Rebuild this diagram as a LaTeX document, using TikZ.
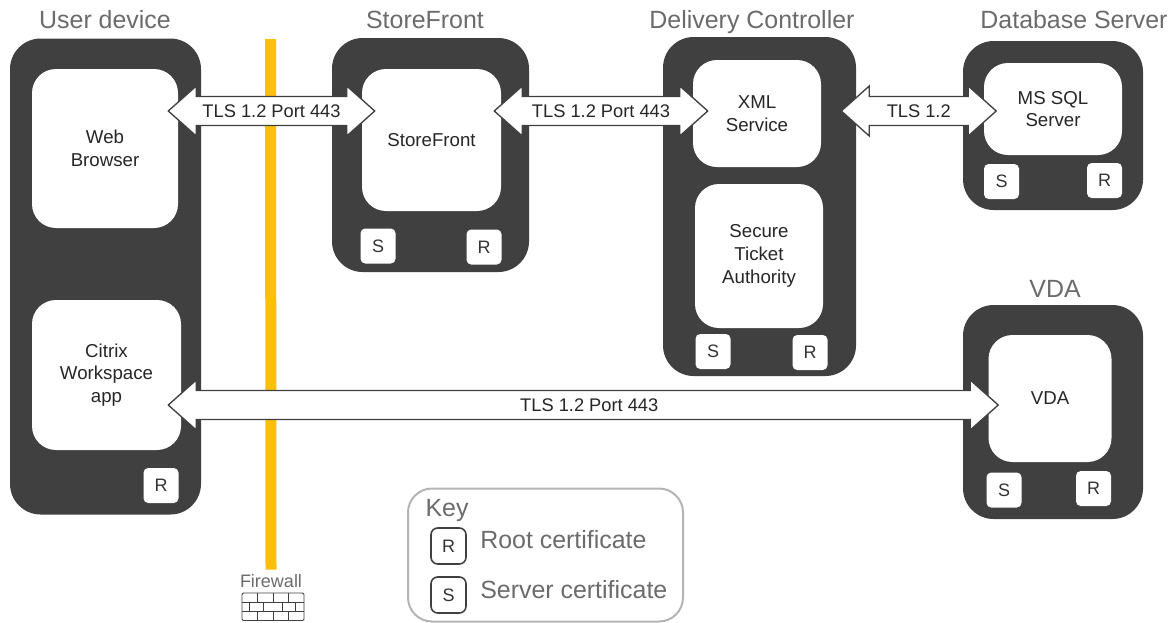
\documentclass[tikz,border=0pt]{standalone}
\usepackage{fontspec}
\setmainfont{Liberation Sans}
\usetikzlibrary{calc}
\definecolor{slab}{HTML}{404040}
\definecolor{titlegray}{HTML}{6B6B6B}
\definecolor{keygray}{HTML}{B4B4B4}
\definecolor{firebar}{HTML}{FCBF0A}

\tikzset{
  boxsize/.style 2 args={minimum width=#1*0.75pt, minimum height=#2*0.75pt, inner sep=0pt},
  hostbox/.style={fill=slab, rounded corners=23pt},
  appbox/.style={fill=white, rounded corners=18pt, align=center, text=black!85,
    font=\fontsize{14}{17}\selectfont},
  certbox/.style={fill=white, rounded corners=3.5pt, boxsize={35}{35}, text=black!80,
    font=\fontsize{13.5}{16}\selectfont},
  keycert/.style={draw=slab, line width=1.2pt, rounded corners=5pt, boxsize={35}{36}, text=black!80,
    font=\fontsize{13.5}{16}\selectfont},
  hosttitle/.style={text=titlegray, text height=16pt, text depth=3pt, inner sep=0pt,
    font=\fontsize{18.7}{22}\selectfont},
  keytext/.style={text=titlegray, anchor=west, inner sep=0pt, font=\fontsize{18.7}{22}\selectfont},
  linktext/.style={text=black!85, font=\fontsize{13.7}{16}\selectfont},
  fatlink/.style={draw=slab, fill=white, line width=1pt, to path={
    -- ++(28,-25) -- ++(0,10.5) -- ($(\tikztotarget)+(-28,-14.5)$) -- ++(0,-10.5)
    -- (\tikztotarget)
    -- ++(-28,25) -- ++(0,-10.5) -- ($(\tikztostart)+(28,14.5)$) -- ++(0,10.5) -- cycle
    ($(\tikztostart)!0.5!(\tikztotarget)$) -- ($(\tikztostart)!0.5!(\tikztotarget)$) \tikztonodes}},
}

\begin{document}
\begin{tikzpicture}[x=0.75pt,y=-0.75pt]
\useasboundingbox (0,0) rectangle (1176,622);

% Firewall
\node[text=titlegray, font=\fontsize{13.5}{16}\selectfont] (firewall) at (271,581) {Firewall};
\coordinate (firetop) at (270.5,39);
\draw[firebar, line width=8.25pt] (firetop) -- (firewall.north);

% Brick icon under the firewall
\draw[slab, line width=0.7pt, rounded corners=1pt] (242,593) rectangle (304,620.5);
\draw[slab, line width=0.7pt] (242,602) -- (304,602) (242,611) -- (304,611);
\foreach \xb in {257,273,288} {
  \draw[slab, line width=0.7pt] (\xb,593) -- (\xb,602) (\xb,611) -- (\xb,620.5);
}
\foreach \xb in {249,263,282,295} {
  \draw[slab, line width=0.7pt] (\xb,602) -- (\xb,611);
}

% Host slabs
\node[hostbox, boxsize={191}{476}] (userhost) at (105.5,276.5) {};
\node[hostbox, boxsize={197}{234}] (storehost) at (430.5,155) {};
\node[hostbox, boxsize={193}{339}] (dchost) at (759.5,206.5) {};
\node[hostbox, boxsize={180}{169}] (dbhost) at (1053,125.5) {};
\node[hostbox, boxsize={180}{214}] (vdahost) at (1053,412) {};

% Titles
\node[hosttitle] (usertitle) at (105,20) {User device};
\node[hosttitle] (storetitle) at (425,20) {StoreFront};
\node[hosttitle] (dctitle) at (752,20) {Delivery Controller};
\node[hosttitle] (dbtitle) at (1074,20) {Database Server};
\node[hosttitle] (vdatitle) at (1055,289) {VDA};

% Applications
\node[appbox, boxsize={146}{159}] (browser) at (105,148.5) {Web\\Browser};
\node[appbox, boxsize={149}{150}] (workspace) at (106.5,375) {Citrix\\Workspace\\app};
\node[appbox, boxsize={139}{142}] (storefront) at (431.5,140) {StoreFront};
\node[appbox, boxsize={128}{107}] (xmlservice) at (757,113.5) {XML\\Service};
\node[appbox, boxsize={128}{144}] (sta) at (759,256) {Secure\\Ticket\\Authority};
\node[appbox, boxsize={138}{92}] (mssql) at (1053,109) {MS SQL\\Server};
\node[appbox, boxsize={123}{127}] (vda) at (1050,398.5) {VDA};

% Certificates
\node[certbox] (usercertr) at (161,485.5) {R};
\node[certbox] (storecerts) at (378,246) {S};
\node[certbox] (storecertr) at (484,247) {R};
\node[certbox] (dccerts) at (713,351.5) {S};
\node[certbox] (dccertr) at (810,352.5) {R};
\node[certbox] (dbcerts) at (1001.5,181.5) {S};
\node[certbox] (dbcertr) at (1104.5,180.5) {R};
\node[certbox] (vdacerts) at (1004,490) {S};
\node[certbox] (vdacertr) at (1093.5,488.5) {R};

% Links
\draw[fatlink] ([shift={(-10,-37.5)}]browser.east) to node[linktext] {TLS 1.2 Port 443} ([shift={(13,-29)}]storefront.west);
\draw[fatlink] ([shift={(-7,-29)}]storefront.east) to node[linktext] {TLS 1.2 Port 443} ([shift={(15,-2.5)}]xmlservice.west);
\draw[fatlink] ([shift={(20,-2.5)}]xmlservice.east) to node[linktext] {TLS 1.2} ([shift={(12.5,2)}]mssql.west);
\draw[fatlink] ([shift={(-13,30)}]workspace.east) to node[linktext, xshift=4.5pt] {TLS 1.2 Port 443} ([shift={(10,6.5)}]vda.west);

% Key
\node[draw=keygray, line width=1.5pt, rounded corners=18pt, boxsize={275}{133}] (keyframe) at (545.5,555) {};
\node[hosttitle] (keytitle) at (447,508) {Key};
\node[keycert] (keyroot) at (448.5,546) {R};
\node[keycert] (keyserver) at (448.5,595) {S};
\node[keytext] (keyroottext) at (480,540) {Root certificate};
\node[keytext] (keyservertext) at (480,590) {Server certificate};

\end{tikzpicture}
\end{document}
